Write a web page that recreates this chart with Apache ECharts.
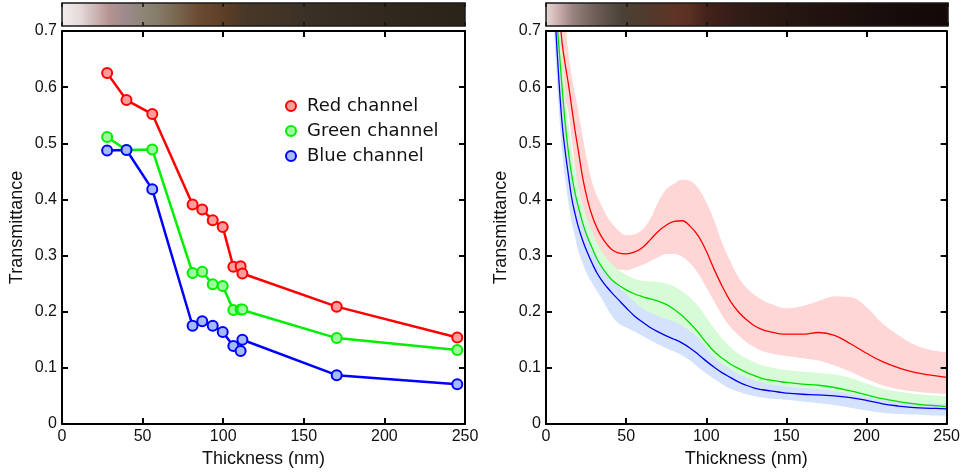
<!DOCTYPE html>
<html>
<head>
<meta charset="utf-8">
<script src="https://cdn.jsdelivr.net/npm/echarts@6/dist/echarts.min.js"></script>
<style>
html,body{margin:0;padding:0;background:#fff;}
#chart{width:963px;height:475px;}
</style>
</head>
<body>
<div id="chart"></div>
<script>
// ---------- Left panel: measured transmittance ----------
const thickness = [28, 40, 56, 81, 87, 93.5, 99.7, 106.3, 110.8, 111.9, 170.4, 245.2];
const redMeasured   = [0.625, 0.577, 0.552, 0.391, 0.382, 0.363, 0.351, 0.280, 0.281, 0.268, 0.209, 0.154];
const greenMeasured = [0.511, 0.488, 0.489, 0.269, 0.271, 0.249, 0.246, 0.203, 0.204, 0.204, 0.153, 0.132];
const blueMeasured  = [0.487, 0.488, 0.418, 0.175, 0.183, 0.175, 0.164, 0.139, 0.130, 0.150, 0.087, 0.071];
const legendNames = ['Red channel', 'Green channel', 'Blue channel'];

// ---------- Right panel: simulated transmittance with spread ----------
const simThickness = [4, 6, 8, 10, 12, 14, 16, 18, 20,
  23, 26, 29, 32, 35, 38, 41,
  45, 50, 55, 60, 65, 70, 75, 80, 85, 90, 95, 100, 105, 110, 115, 120, 125, 130, 135, 140, 145, 150,
  160, 170, 180, 190, 200, 210, 220, 230, 240, 250];
const simRed = [0.95, 0.85, 0.75, 0.68, 0.64, 0.605, 0.565, 0.525, 0.49,
  0.437, 0.398, 0.369, 0.348, 0.332, 0.320, 0.311,
  0.305, 0.303, 0.306, 0.314, 0.328, 0.343, 0.354, 0.361, 0.362, 0.352, 0.335, 0.308, 0.275, 0.245, 0.219, 0.200, 0.186, 0.175, 0.168, 0.164, 0.161, 0.160,
  0.160, 0.163, 0.158, 0.143, 0.126, 0.111, 0.100, 0.092, 0.087, 0.083];
const simRedUpper = [1.0, 0.95, 0.86, 0.78, 0.72, 0.66, 0.62, 0.59, 0.56,
  0.51, 0.465, 0.429, 0.405, 0.387, 0.370, 0.358,
  0.345, 0.336, 0.338, 0.346, 0.365, 0.395, 0.418, 0.428, 0.435, 0.433, 0.420, 0.395, 0.362, 0.322, 0.290, 0.262, 0.243, 0.230, 0.221, 0.214, 0.209, 0.206,
  0.210, 0.219, 0.227, 0.226, 0.208, 0.179, 0.158, 0.141, 0.132, 0.128];
const simRedLower = [0.85, 0.76, 0.68, 0.62, 0.58, 0.555, 0.51, 0.46, 0.41,
  0.37, 0.34, 0.322, 0.305, 0.292, 0.285, 0.280,
  0.275, 0.274, 0.278, 0.283, 0.290, 0.297, 0.303, 0.303, 0.298, 0.286, 0.268, 0.243, 0.218, 0.193, 0.173, 0.158, 0.146, 0.137, 0.130, 0.126, 0.123, 0.121,
  0.117, 0.113, 0.104, 0.093, 0.080, 0.069, 0.062, 0.058, 0.055, 0.053];
const simGreen = [0.85, 0.75, 0.675, 0.601, 0.535, 0.484, 0.444, 0.413, 0.389,
  0.357, 0.332, 0.312, 0.293, 0.279, 0.267, 0.257,
  0.248, 0.239, 0.232, 0.227, 0.223, 0.219, 0.213, 0.204, 0.193, 0.179, 0.163, 0.145, 0.129, 0.117, 0.107, 0.099, 0.092, 0.086, 0.081, 0.078, 0.076, 0.074,
  0.071, 0.069, 0.065, 0.059, 0.052, 0.045, 0.040, 0.036, 0.033, 0.031];
const simGreenUpper = [0.95, 0.83, 0.74, 0.66, 0.59, 0.535, 0.49, 0.455, 0.425,
  0.39, 0.362, 0.34, 0.322, 0.307, 0.295, 0.285,
  0.275, 0.266, 0.259, 0.255, 0.254, 0.253, 0.250, 0.245, 0.236, 0.225, 0.210, 0.190, 0.170, 0.152, 0.137, 0.125, 0.117, 0.110, 0.104, 0.101, 0.098, 0.096,
  0.093, 0.091, 0.088, 0.082, 0.072, 0.063, 0.058, 0.054, 0.051, 0.049];
const simGreenLower = [0.75, 0.67, 0.61, 0.545, 0.48, 0.433, 0.398, 0.371, 0.353,
  0.324, 0.302, 0.284, 0.264, 0.251, 0.239, 0.229,
  0.221, 0.212, 0.205, 0.199, 0.192, 0.185, 0.176, 0.163, 0.150, 0.133, 0.116, 0.100, 0.088, 0.082, 0.077, 0.073, 0.067, 0.062, 0.058, 0.055, 0.054, 0.052,
  0.050, 0.047, 0.042, 0.036, 0.032, 0.027, 0.022, 0.018, 0.015, 0.013];
const simBlue = [0.82, 0.71, 0.615, 0.537, 0.485, 0.443, 0.403, 0.376, 0.353,
  0.326, 0.304, 0.285, 0.268, 0.255, 0.244, 0.234,
  0.222, 0.207, 0.193, 0.182, 0.172, 0.164, 0.157, 0.151, 0.144, 0.135, 0.124, 0.112, 0.101, 0.091, 0.083, 0.075, 0.069, 0.064, 0.061, 0.059, 0.057, 0.055,
  0.053, 0.052, 0.050, 0.047, 0.042, 0.036, 0.032, 0.029, 0.028, 0.027];
const simBlueUpper = [0.88, 0.77, 0.67, 0.59, 0.53, 0.485, 0.443, 0.412, 0.387,
  0.357, 0.333, 0.313, 0.295, 0.280, 0.268, 0.258,
  0.246, 0.232, 0.218, 0.206, 0.198, 0.192, 0.187, 0.182, 0.175, 0.165, 0.153, 0.136, 0.119, 0.107, 0.098, 0.089, 0.083, 0.078, 0.074, 0.071, 0.069, 0.067,
  0.064, 0.062, 0.059, 0.054, 0.048, 0.043, 0.040, 0.038, 0.036, 0.036];
const simBlueLower = [0.76, 0.65, 0.56, 0.485, 0.435, 0.395, 0.36, 0.335, 0.31,
  0.285, 0.265, 0.25, 0.236, 0.222, 0.207, 0.193,
  0.180, 0.172, 0.165, 0.157, 0.149, 0.142, 0.135, 0.129, 0.122, 0.113, 0.101, 0.090, 0.080, 0.071, 0.063, 0.058, 0.053, 0.050, 0.047, 0.045, 0.044, 0.043,
  0.040, 0.037, 0.034, 0.029, 0.024, 0.020, 0.018, 0.017, 0.016, 0.016];

// Axis ticks
const xMin = 0, xMax = 250, xStep = 50;
const yMin = 0, yMax = 0.7, yStep = 0.1;

// ---------- styles ----------
const leftBarStops = [
  [0.00, '#f3efef'], [0.045, '#e6dada'], [0.077, '#d0bcbc'], [0.12, '#b49290'], [0.16, '#9d8a8c'],
  [0.20, '#8f8677'], [0.243, '#857a66'], [0.285, '#7a6650'], [0.342, '#6a4a30'], [0.40, '#5e3e26'],
  [0.45, '#4a3828'], [0.573, '#3e3226'], [0.74, '#342a1e'], [1.00, '#2a2416']
];
const rightBarStops = [
  [0.00, '#eadada'], [0.035, '#c8acaa'], [0.067, '#9a8482'], [0.11, '#78665e'], [0.15, '#5e524a'],
  [0.19, '#4c4236'], [0.25, '#503a2c'], [0.316, '#5e3426'], [0.358, '#5a3022'], [0.40, '#44221a'],
  [0.48, '#321c16'], [0.65, '#221410'], [0.81, '#1a0e0c'], [1.00, '#140808']
];
function grad(stops) {
  return new echarts.graphic.LinearGradient(0, 0, 1, 0,
    stops.map(s => ({ offset: s[0], color: s[1] })));
}
const labelFont = 'Liberation Sans, Arial, sans-serif';
const legendFont = 'DejaVu Sans, Verdana, sans-serif';

function pairs(xs, ys) { return xs.map((x, i) => [x, ys[i]]); }
// value first, thickness second: lets the stack act on the value (y) dimension
function pairsYX(xs, ys) { return xs.map((x, i) => [ys[i], x]); }
function diff(a, b) { return a.map((v, i) => +(v - b[i]).toFixed(4)); }

function frameX(gridIndex, bottom) {
  const ax = {
    gridIndex, type: 'value', min: xMin, max: xMax, interval: xStep,
    position: bottom ? 'bottom' : 'top', z: 10,
    axisLine: { show: true, onZero: false, lineStyle: { color: '#000', width: 2 } },
    axisTick: { show: true, inside: true, length: 6, lineStyle: { color: '#000', width: 2 } },
    splitLine: { show: false },
    axisLabel: { show: false }
  };
  if (bottom) {
    ax.axisLabel = { show: true, color: '#111', fontFamily: labelFont, fontSize: 16, margin: 5 };
    ax.name = 'Thickness (nm)';
    ax.nameLocation = 'middle';
    ax.nameGap = 24;
    ax.nameTextStyle = { color: '#111', fontFamily: labelFont, fontSize: 18 };
  }
  return ax;
}
function frameY(gridIndex, left) {
  const ax = {
    gridIndex, type: 'value', min: yMin, max: yMax, interval: yStep,
    position: left ? 'left' : 'right', z: 10,
    axisLine: { show: true, onZero: false, lineStyle: { color: '#000', width: 2 } },
    axisTick: { show: true, inside: true, length: 6, lineStyle: { color: '#000', width: 2 } },
    splitLine: { show: false },
    axisLabel: { show: false }
  };
  if (left) {
    ax.axisLabel = { show: true, color: '#111', fontFamily: labelFont, fontSize: 16, margin: 5 };
    ax.name = 'Transmittance';
    ax.nameLocation = 'middle';
    ax.nameGap = 36;
    ax.nameTextStyle = { color: '#111', fontFamily: labelFont, fontSize: 18 };
  }
  return ax;
}
function barX(gridIndex, bottom) {
  return {
    gridIndex, type: 'value', min: xMin, max: xMax, interval: xStep,
    position: bottom ? 'bottom' : 'top',
    axisLine: { show: false },
    axisTick: { show: true, inside: true, length: 4, lineStyle: { color: '#111', width: 1.5 } },
    axisLabel: { show: false }, splitLine: { show: false }
  };
}

const chart = echarts.init(document.getElementById('chart'), null, { renderer: 'canvas' });

const measuredStyles = [
  { line: '#ff0000', fill: '#ff9c9c' },
  { line: '#00ee00', fill: '#9cff9c' },
  { line: '#0000ff', fill: '#a4bcff' }
];
const measuredData = [redMeasured, greenMeasured, blueMeasured];

const series = [];
measuredData.forEach((vals, i) => {
  series.push({
    name: legendNames[i], type: 'line', xAxisIndex: 0, yAxisIndex: 0,
    data: pairs(thickness, vals),
    symbol: 'circle', symbolSize: 10,
    lineStyle: { color: measuredStyles[i].line, width: 2.5 },
    itemStyle: { color: measuredStyles[i].fill, borderColor: measuredStyles[i].line, borderWidth: 2 },
    z: 5
  });
});

const bands = [
  { key: 'r', lower: simRedLower, upper: simRedUpper, fill: '#ffd6d6' },
  { key: 'g', lower: simGreenLower, upper: simGreenUpper, fill: '#d6fbd6' },
  { key: 'b', lower: simBlueLower, upper: simBlueUpper, fill: '#d4e2fd' }
];
bands.forEach((b, i) => {
  series.push({
    name: 'band-' + b.key + '-base', type: 'line', xAxisIndex: 2, yAxisIndex: 2,
    stack: 'band' + b.key, data: pairsYX(simThickness, b.lower), encode: { x: 1, y: 0 },
    symbol: 'none', smooth: 0.4, lineStyle: { opacity: 0 }, z: 1 + i * 0.1, silent: true
  });
  series.push({
    name: 'band-' + b.key, type: 'line', xAxisIndex: 2, yAxisIndex: 2,
    stack: 'band' + b.key, data: pairsYX(simThickness, diff(b.upper, b.lower)), encode: { x: 1, y: 0 },
    symbol: 'none', smooth: 0.4, lineStyle: { opacity: 0 },
    areaStyle: { color: b.fill, opacity: 1 }, z: 1 + i * 0.1, silent: true
  });
});
const simLines = [
  { vals: simRed, color: '#ff0000' },
  { vals: simGreen, color: '#00dd00' },
  { vals: simBlue, color: '#0000ee' }
];
simLines.forEach((l, i) => {
  series.push({
    name: 'sim-' + i, type: 'line', xAxisIndex: 2, yAxisIndex: 2,
    data: pairs(simThickness, l.vals), symbol: 'none', smooth: 0.4,
    lineStyle: { color: l.color, width: 1.3 }, z: 3
  });
});

chart.setOption({
  animation: false,
  backgroundColor: '#fff',
  grid: [
    { left: 62, top: 31, width: 403, height: 393 },
    { left: 546, top: 31, width: 402, height: 393 },
    { left: 62, top: 3, width: 403, height: 23, show: true, backgroundColor: grad(leftBarStops), borderColor: '#1a1a1a', borderWidth: 1.5 },
    { left: 546, top: 3, width: 402, height: 23, show: true, backgroundColor: grad(rightBarStops), borderColor: '#1a1a1a', borderWidth: 1.5 }
  ],
  xAxis: [
    frameX(0, true), frameX(0, false),
    frameX(1, true), frameX(1, false),
    barX(2, true), barX(2, false),
    barX(3, true), barX(3, false)
  ],
  yAxis: [
    frameY(0, true), frameY(0, false),
    frameY(1, true), frameY(1, false),
    { gridIndex: 2, type: 'value', min: 0, max: 1, show: false },
    { gridIndex: 3, type: 'value', min: 0, max: 1, show: false }
  ],
  legend: {
    data: legendNames, orient: 'vertical', left: 280, top: 92,
    icon: 'circle', itemWidth: 10, itemHeight: 10, itemGap: 7,
    textStyle: { fontFamily: legendFont, fontSize: 18, color: '#111', padding: [0, 0, 0, 6] },
    selectedMode: false
  },
  series
});
</script>
</body>
</html>
